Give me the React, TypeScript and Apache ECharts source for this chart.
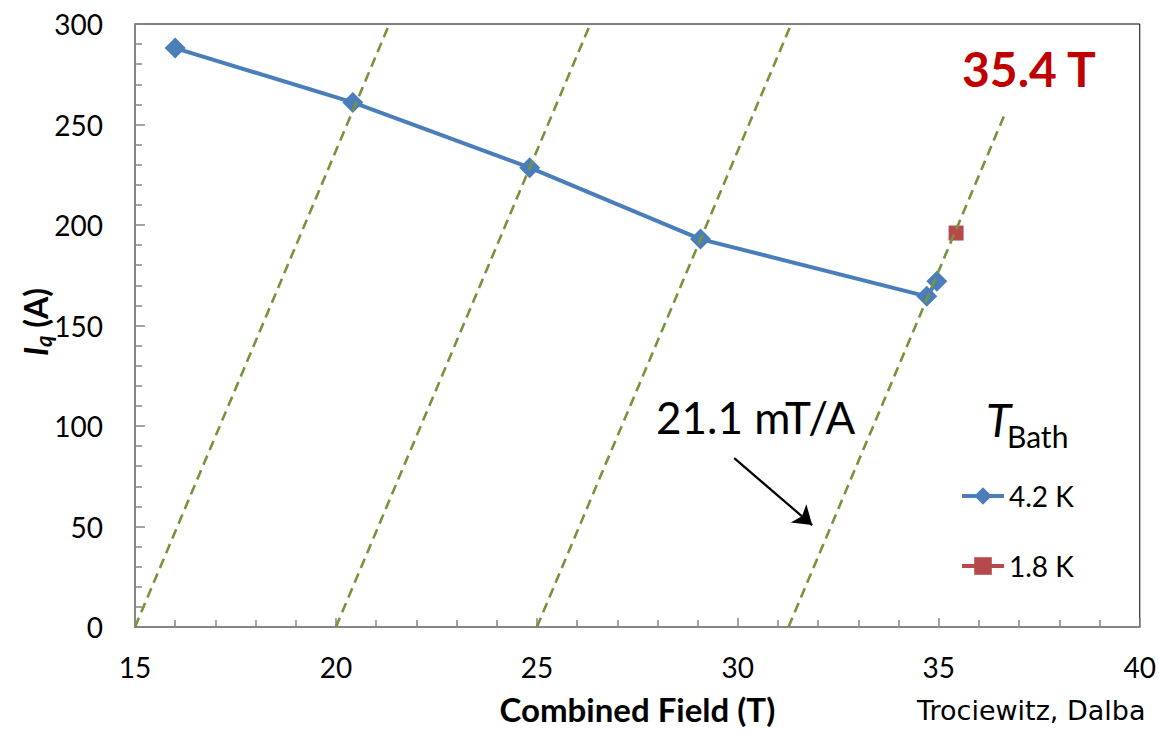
import React, { useEffect, useRef } from "react";
import * as echarts from "echarts";

const fieldAt42K = [16.0, 20.42, 24.82, 29.07, 34.7, 34.95];
const currentAt42K = [288, 261, 228.5, 193, 164.5, 172];
const fieldAt18K = [35.43];
const currentAt18K = [196];

// Load lines (21.1 mT/A), endpoints
const loadLineStartField = [15, 20, 25, 31.26];
const loadLineStartCurrent = [0, 0, 0, 0];
const loadLineEndField = [21.33, 26.33, 31.33, 36.66];
const loadLineEndCurrent = [300, 300, 300, 256];

// Annotation arrow (data coordinates)
const arrowTail = [29.91, 84];
const arrowHead = [31.85, 50.7];

// Axes
const xRange = [15, 40];
const xStep = 5;
const yRange = [0, 300];
const yStep = 50;

const legendNames = ["4.2 K", "1.8 K"];

const BLUE = "#4A7EBB";
const RED = "#B5494B";
const GREEN = "#77933C";
const AXIS = "#868686";
const FONT = "Lato, 'Noto Sans', sans-serif";

export default function App() {
  const ref = useRef<HTMLDivElement>(null);

  useEffect(() => {
    document.body.style.margin = "0";
    if (!ref.current) return;
    const chart = echarts.init(ref.current, undefined, { renderer: "svg" });

    const loadSeries = loadLineStartField.map((s, i) => ({
      type: "line",
      name: "load" + i,
      data: [
        [s, loadLineStartCurrent[i]],
        [loadLineEndField[i], loadLineEndCurrent[i]],
      ],
      symbol: "none",
      silent: true,
      z: 4,
      lineStyle: { color: GREEN, width: 2.6, type: [10, 6] },
    }));

    const option: any = {
      animation: false,
      backgroundColor: "#fff",
      grid: {
        left: 135,
        right: 18,
        top: 24,
        bottom: 106,
        show: true,
        borderColor: "#000",
        borderWidth: 1,
        backgroundColor: "transparent",
      },
      xAxis: {
        type: "value",
        min: xRange[0],
        max: xRange[1],
        interval: xStep,
        name: "Combined Field (T)",
        nameLocation: "middle",
        nameGap: 65,
        nameTextStyle: { fontFamily: FONT, fontSize: 33, fontWeight: "bold", color: "#000" },
        axisLine: { show: true, lineStyle: { color: AXIS, width: 2 } },
        axisTick: { show: true, inside: true, length: 9, lineStyle: { color: AXIS, width: 1.5 } },
        minorTick: { show: true, splitNumber: 5, length: 7, lineStyle: { color: AXIS, width: 1.5 } },
        splitLine: { show: false },
        axisLabel: { fontFamily: FONT, fontSize: 28, color: "#000", margin: 26 },
      },
      yAxis: {
        type: "value",
        min: yRange[0],
        max: yRange[1],
        interval: yStep,
        axisLine: { show: true, lineStyle: { color: AXIS, width: 2 } },
        axisTick: { show: true, inside: true, length: 10, lineStyle: { color: AXIS, width: 1.5 } },
        minorTick: { show: true, splitNumber: 5, length: 7, lineStyle: { color: AXIS, width: 1.5 } },
        splitLine: { show: false },
        axisLabel: { fontFamily: FONT, fontSize: 28, color: "#000", margin: 32 },
      },
      legend: {
        data: [
          { name: legendNames[0], itemStyle: { color: BLUE }, lineStyle: { color: BLUE, width: 4 } },
          { name: legendNames[1], itemStyle: { color: RED }, lineStyle: { color: RED, width: 4 } },
        ],
        orient: "vertical",
        left: 955,
        top: 477,
        itemWidth: 42,
        itemHeight: 22,
        itemGap: 42,
        lineStyle: { width: 4 },
        textStyle: { fontFamily: FONT, fontSize: 28, color: "#000" },
      },
      series: [
        {
          type: "line",
          name: legendNames[0],
          data: fieldAt42K.map((x, i) => [x, currentAt42K[i]]),
          symbol: "diamond",
          symbolSize: 21,
          itemStyle: { color: BLUE },
          lineStyle: { color: BLUE, width: 4 },
          z: 3,
        },
        {
          type: "line",
          name: legendNames[1],
          data: fieldAt18K.map((x, i) => [x, currentAt18K[i]]),
          symbol: "rect",
          symbolSize: 15,
          itemStyle: { color: RED },
          lineStyle: { color: RED, width: 4 },
          z: 3,
          markLine: {
            silent: true,
            symbol: ["none", "arrow"],
            symbolSize: 18,
            label: { show: false },
            lineStyle: { color: "#000", width: 2.2, type: "solid" },
            data: [[{ coord: arrowTail }, { coord: arrowHead }]],
          },
        },
        ...loadSeries,
      ],
      graphic: [
        {
          type: "text",
          left: 962,
          top: 44,
          style: {
            text: "35.4 T",
            fontFamily: FONT,
            fontSize: 48,
            fontWeight: "bold",
            fill: "#C00000",
          },
        },
        {
          type: "text",
          left: 656,
          top: 395,
          style: { text: "21.1 mT/A", fontFamily: FONT, fontSize: 44, fill: "#000" },
        },
        {
          type: "text",
          left: 986,
          top: 396,
          style: { text: "T", fontFamily: FONT, fontSize: 46, fontStyle: "italic", fill: "#000" },
        },
        {
          type: "text",
          left: 1007,
          top: 421,
          style: { text: "Bath", fontFamily: FONT, fontSize: 30, fill: "#000" },
        },
        {
          type: "text",
          x: 35,
          y: 322,
          rotation: Math.PI / 2,
          style: {
            text: "{i|I}{q|q}{a| (A)}",
            align: "center",
            verticalAlign: "middle",
            fill: "#000",
            rich: {
              i: { fontFamily: FONT, fontSize: 32, fontWeight: "bold", fontStyle: "italic", lineHeight: 38 },
              q: { fontFamily: FONT, fontSize: 22, fontWeight: "bold", fontStyle: "italic", lineHeight: 22, verticalAlign: "bottom" },
              a: { fontFamily: FONT, fontSize: 32, fontWeight: "bold", lineHeight: 38 },
            },
          },
        },
        {
          type: "text",
          left: 917,
          top: 697,
          style: { text: "Trociewitz, Dalba", fontFamily: "'DejaVu Sans', sans-serif", fontSize: 27, fill: "#000" },
        },
      ],
    };

    chart.setOption(option);
    return () => chart.dispose();
  }, []);

  return <div ref={ref} style={{ width: 1159, height: 733 }} />;
}
